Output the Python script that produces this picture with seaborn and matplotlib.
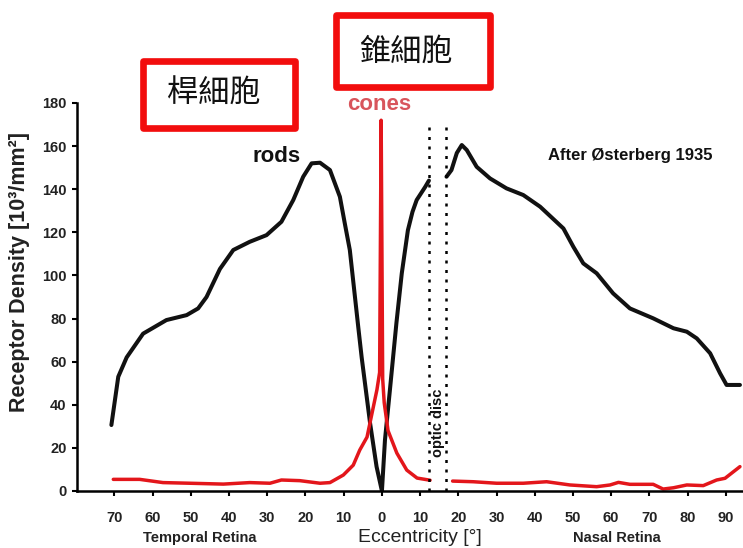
import matplotlib
matplotlib.use("Agg")
import matplotlib.pyplot as plt
import matplotlib.transforms as mtransforms
from matplotlib.patches import Rectangle
import seaborn as sns
import pandas as pd

# Eccentricity in degrees: negative = temporal retina, positive = nasal retina
rods_fovea_ecc = [-70.8, -69.0, -66.8, -62.5, -56.4, -51.1, -48.1, -45.9, -42.4, -38.9,
                  -34.6, -30.2, -26.3, -23.2, -20.6, -18.4, -16.2, -13.6, -11.0, -9.7,
                  -8.4, -6.2, -5.3, -3.1, -1.4, 0.0, 0.8, 2.1, 3.8, 5.2, 6.8, 8.0, 9.1,
                  11.3, 12.3]
rods_fovea_density = [30.6, 53, 62, 73, 79.3, 81.6, 84.7, 90, 103, 111.8,
                      115.6, 118.7, 124.9, 135, 145.8, 152, 152.3, 148.9, 136.5, 124,
                      111.8, 76.2, 62, 31.5, 11.3, 0, 23.7, 47, 78, 101, 121, 129.5, 135,
                      141, 144]

rods_nasal_ecc = [16.9, 18.2, 19.6, 20.9, 22.2, 24.8, 28.3, 32.6, 37.0, 41.4, 47.5, 50.1,
                  52.7, 56.2, 60.5, 64.9, 71.0, 76.3, 79.8, 82.4, 85.9, 88.5, 90.2, 93.7]
rods_nasal_density = [145.8, 148.9, 156.8, 160.5, 158.2, 150.4, 145, 140.4, 137.3, 131.9, 121.8, 113.3,
                      105.6, 101, 91.7, 84.7, 80.1, 75.5, 73.9, 70.8, 63.9, 54.6, 49.2, 49.2]

cones_fovea_ecc = [-70.3, -63.4, -57.3, -50.3, -41.5, -34.6, -29.3, -26.3, -21.5, -16.2,
                   -13.6, -10.1, -7.5, -5.8, -3.9, -2.6, -1.3, -0.6, -0.2, 0.2, 0.6,
                   1.6, 3.9, 6.5, 9.2, 12.6]
cones_fovea_density = [5.4, 5.4, 3.9, 3.6, 3.2, 3.9, 3.6, 5.1, 4.8, 3.6,
                       3.9, 7.4, 12, 19, 25, 36, 47, 55, 172, 52, 41,
                       28, 17.6, 9.7, 6, 5]

cones_nasal_ecc = [18.5, 23.9, 30.0, 37.0, 43.1, 49.2, 56.2, 59.7, 61.9, 64.9, 71.0,
                   73.6, 76.3, 79.8, 84.1, 87.6, 89.8, 93.7]
cones_nasal_density = [4.6, 4.3, 3.6, 3.6, 4.3, 2.8, 2.0, 2.8, 4.0, 3.1, 3.1,
                       0.9, 1.5, 2.8, 2.5, 5.1, 5.9, 11.3]

optic_disc_edges = [12.3, 16.9]
x_ticks = [-70, -60, -50, -40, -30, -20, -10, 0, 10, 20, 30, 40, 50, 60, 70, 80, 90]
x_tick_labels = [str(abs(t)) for t in x_ticks]
y_ticks = [0, 20, 40, 60, 80, 100, 120, 140, 160, 180]

sns.set_style("ticks")
plt.rcParams["font.family"] = ["Liberation Sans", "DejaVu Sans"]

fig = plt.figure(figsize=(7.43, 5.48), dpi=100)
ax = fig.add_axes([77 / 743, 1 - 491 / 548, (743 - 77) / 743, (491 - 103) / 548])

rod_color = "#111111"
cone_color = "#e3161b"

segments = [
    (rods_fovea_ecc, rods_fovea_density, rod_color, 2.9),
    (rods_nasal_ecc, rods_nasal_density, rod_color, 2.9),
    (cones_fovea_ecc, cones_fovea_density, cone_color, 2.5),
    (cones_nasal_ecc, cones_nasal_density, cone_color, 2.5),
]
for ecc, dens, col, lw in segments:
    df = pd.DataFrame({"ecc": ecc, "density": dens})
    sns.lineplot(data=df, x="ecc", y="density", color=col, linewidth=lw,
                 sort=False, estimator=None, ax=ax, solid_joinstyle="round",
                 solid_capstyle="round")

# Optic disc boundaries
ax.vlines(optic_disc_edges, 0, 171, colors="black", linewidth=1.8,
          linestyles=[(0, (1.2, 2.6))])

ax.set_xlim(-79.8, 94.5)
ax.set_ylim(0, 180)
ax.set_xticks(x_ticks)
ax.set_xticklabels(x_tick_labels)
ax.set_yticks(y_ticks)
ax.tick_params(axis="both", direction="out", length=3.6, width=1.5,
               labelsize=10.5, colors="black")
ax.tick_params(axis="x", pad=11)
ax.tick_params(axis="y", pad=4)
for lab in ax.get_xticklabels() + ax.get_yticklabels():
    lab.set_fontweight("bold")
    lab.set_color("#222222")

sns.despine(ax=ax)
for side in ["left", "bottom"]:
    ax.spines[side].set_linewidth(1.8)
    ax.spines[side].set_color("black")

ax.set_xlabel("")
ax.set_ylabel("Receptor Density [10³/mm²]", fontsize=15.5, fontweight="bold",
              color="#222222")
ax.yaxis.set_label_coords(-0.0706, 0.565)

# Curve labels
ax.text(-27.5, 155.4, "rods", fontsize=16, fontweight="bold", color="#111111",
        ha="center", va="center")
ax.text(-0.8, 179.5, "cones", fontsize=16, fontweight="bold", color="#d8555c",
        ha="center", va="center", clip_on=False)
ax.text(64.9, 155.6, "After Østerberg 1935", fontsize=12, fontweight="bold",
        color="#111111", ha="center", va="center")
ax.text(14.6, 31.8, "optic disc", fontsize=10.5, fontweight="bold", color="#111111",
        rotation=90, ha="center", va="center")

# Axis captions below the ticks
blend = mtransforms.blended_transform_factory(ax.transData, fig.transFigure)
ycap = 1 - 538 / 548
ax.text(-47.6, ycap, "Temporal Retina", transform=blend, fontsize=10.5,
        fontweight="bold", color="#222222", ha="center", va="center")
ax.text(61.5, ycap, "Nasal Retina", transform=blend, fontsize=10.5,
        fontweight="bold", color="#222222", ha="center", va="center")
ax.text(10.0, ycap, "Eccentricity [°]", transform=blend, fontsize=14,
        color="#222222", ha="center", va="center")

# Highlight boxes with Chinese captions
box_color = "#f20d0d"
for (x0, y0, x1, y1), label, (cx, cy) in [
    ((142.6, 61.0, 295.0, 128.4), "桿細胞", (214, 94)),
    ((335.6, 15.0, 490.0, 86.7), "錐細胞", (405.5, 51.7)),
]:
    rect = Rectangle((x0 / 743, 1 - y1 / 548), (x1 - x0) / 743, (y1 - y0) / 548,
                     transform=fig.transFigure, fill=False, edgecolor=box_color,
                     linewidth=4.8, joinstyle="round", zorder=5)
    fig.patches.append(rect)
    fig.text(cx / 743, 1 - cy / 548, label, fontsize=22.5, color="#111111",
             family=["Noto Sans CJK TC", "DejaVu Sans"], ha="center", va="center")

fig.savefig("out.png", dpi=100, facecolor="white")
